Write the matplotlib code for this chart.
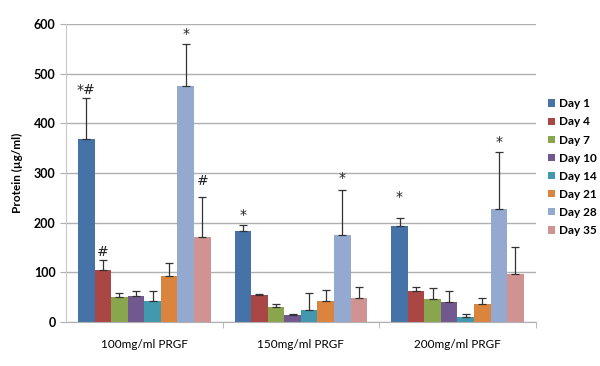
import numpy as np
import matplotlib.pyplot as plt

# Protein release per PRGF concentration and day
groups = ['100mg/ml PRGF', '150mg/ml PRGF', '200mg/ml PRGF']
days = ['Day 1', 'Day 4', 'Day 7', 'Day 10', 'Day 14', 'Day 21', 'Day 28', 'Day 35']
colors = ['#4572A7', '#AA4643', '#89A54E', '#71588F', '#4198AF', '#DB843D', '#93A9CF', '#D19392']

means = [
    [368, 104, 50, 52, 42, 93, 475, 172],
    [184, 54, 30, 15, 24, 42, 176, 48],
    [193, 63, 46, 40, 11, 36, 227, 97],
]
err_top = [
    [452, 126, 58, 62, 62, 118, 561, 252],
    [195, 56, 36, 17, 58, 64, 267, 70],
    [209, 71, 68, 62, 16, 48, 343, 152],
]
# significance marks: (group, day index, text, y position)
marks = [
    (0, 0, '*#', 468), (0, 1, '#', 142), (0, 6, '*', 580), (0, 7, '#', 284),
    (1, 0, '*', 216), (1, 6, '*', 290),
    (2, 0, '*', 252), (2, 6, '*', 362),
]

plt.rcParams['font.family'] = ['Lato', 'DejaVu Sans']

fig = plt.figure(figsize=(6, 3.66), dpi=100)
ax = fig.add_axes([0.11, 0.12, 0.783, 0.814])

n = len(days)
span = 0.846
width = span / n
x = np.arange(len(groups))
for j in range(n):
    vals = [means[g][j] for g in range(len(groups))]
    up = [err_top[g][j] - means[g][j] for g in range(len(groups))]
    pos = x - span / 2 + width * (j + 0.5)
    ax.bar(pos, vals, width=width, color=colors[j], label=days[j], zorder=2)
    ax.errorbar(pos, vals, yerr=[np.zeros(len(vals)), up], fmt='none',
                ecolor='#333333', elinewidth=0.9, capsize=3, capthick=0.9, zorder=3)

for g, j, txt, yv in marks:
    ax.text(x[g] - span / 2 + width * (j + 0.5), yv, txt, ha='center', va='center',
            fontsize=10, color='#222222', family='DejaVu Sans')

ax.set_xlim(-0.5, 2.5)
ax.set_ylim(0, 600)
ax.set_yticks(range(0, 601, 100))
ax.yaxis.grid(True, color='#b0b0b0', linewidth=1, zorder=0)
ax.set_axisbelow(True)
ax.set_xticks(x)
ax.set_xticklabels(groups, fontsize=8.5)
ax.set_xticks([0.5, 1.5, 2.5], minor=True)
ax.tick_params(axis='x', which='major', length=0, pad=12)
ax.tick_params(axis='x', which='minor', length=4, color='#b0b0b0')
ax.tick_params(axis='y', length=4, color='#b0b0b0', labelsize=9)
for lbl in ax.get_yticklabels():
    lbl.set_fontweight('bold')
for s in ['top', 'right']:
    ax.spines[s].set_visible(False)
ax.spines['left'].set_color('#c8c8c8')
ax.spines['bottom'].set_color('#b0b0b0')
ax.set_ylabel('Protein (µg/ml)', fontsize=8.5, fontweight='bold', labelpad=8)

ax.legend(loc='center left', bbox_to_anchor=(1.0, 0.52), frameon=False,
          handlelength=0.6, handleheight=0.6, handletextpad=0.35,
          labelspacing=0.6, borderpad=0, borderaxespad=1.0,
          prop={'weight': 'bold', 'size': 8.5})

fig.savefig('out.png', dpi=100)
